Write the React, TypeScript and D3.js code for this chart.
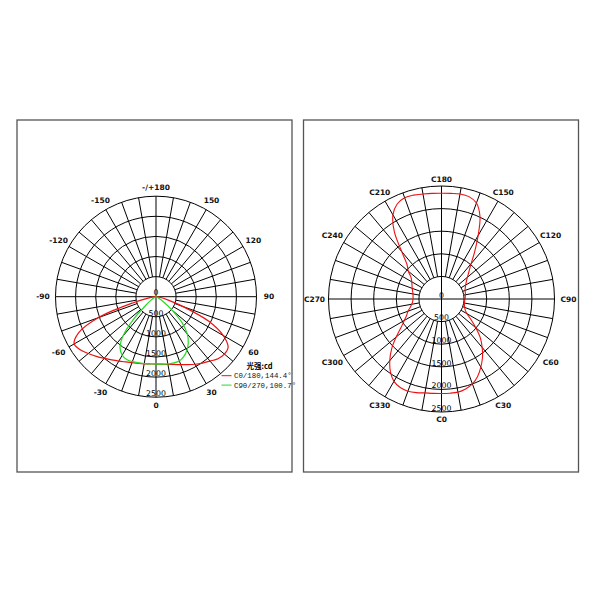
import React from 'react';
import * as d3 from 'd3';

// ---------- data ----------
const RING_VALUES = [500, 1000, 1500, 2000, 2500];
const VALUE_LABELS = [0, 500, 1000, 1500, 2000, 2500];

const LEFT_LABEL_ANGLES = [0, 30, 60, 90, 120, 150, 180, -150, -120, -90, -60, -30];
const LEFT_LABEL_TEXT = ['0', '30', '60', '90', '120', '150', '-/+180', '-150', '-120', '-90', '-60', '-30'];

const RIGHT_LABEL_ANGLES = [0, 30, 60, 90, 120, 150, 180, 210, 240, 270, 300, 330];
const RIGHT_LABEL_TEXT = ['C0', 'C30', 'C60', 'C90', 'C120', 'C150', 'C180', 'C210', 'C240', 'C270', 'C300', 'C330'];

// gamma angles (deg) for the left chart
const GAMMA = [-90, -85, -80, -75, -70, -65, -60, -55, -50, -45, -40, -35, -30, -25, -20, -15, -10, -5,
  0, 5, 10, 15, 20, 25, 30, 35, 40, 45, 50, 55, 60, 65, 70, 75, 80, 85, 90];
// C0/180 plane intensity (cd)
const C0_180 = [0, 60, 200, 600, 1520, 2120, 2350, 2300, 2200, 2100, 2000, 1920, 1850, 1790, 1745, 1715, 1695, 1680,
  1675, 1685, 1710, 1745, 1800, 1865, 1940, 2015, 2090, 2180, 2220, 2190, 1930, 1450, 720, 300, 120, 40, 0];
// C90/270 plane intensity (cd)
const C90_270 = [0, 0, 0, 0, 0, 0, 40, 150, 330, 780, 1280, 1560, 1680, 1725, 1720, 1705, 1690, 1680,
  1675, 1685, 1700, 1705, 1700, 1640, 1540, 1400, 1210, 920, 520, 240, 80, 0, 0, 0, 0, 0, 0];

// C angles (deg) for the right chart
const C_ANGLES = [0, 5, 10, 15, 20, 25, 30, 35, 40, 45, 50, 55, 60, 65, 70, 75, 80, 85, 90, 95, 100, 105, 110, 115,
  120, 125, 130, 135, 140, 145, 150, 155, 160, 165, 170, 175, 180, 185, 190, 195, 200, 205, 210, 215, 220, 225, 230, 235,
  240, 245, 250, 255, 260, 265, 270, 275, 280, 285, 290, 295, 300, 305, 310, 315, 320, 325, 330, 335, 340, 345, 350, 355];
const CONE_VALUES = [2090, 2092, 2092, 2060, 2000, 1890, 1740, 1580, 1400, 1215, 990, 800, 650, 580, 545, 525, 515, 515,
  520, 528, 538, 545, 555, 580, 620, 670, 750, 860, 1020, 1280, 1620, 2015, 2260, 2345, 2359, 2345, 2338, 2345, 2358, 2380,
  2385, 2320, 2150, 1820, 1370, 1080, 960, 820, 760, 720, 690, 660, 640, 632, 630, 640, 670, 715, 790, 850, 950, 1090,
  1310, 1560, 1780, 1970, 2105, 2160, 2170, 2145, 2110, 2095];

const LEGEND_TITLE = '光强:cd';
const LEGEND_ITEMS = ['C0/180,144.4°', 'C90/270,100.7°'];
const SERIES_COLORS = ['#ee1111', '#22dd22'];

// ---------- helpers ----------
const rad = (d: number) => (d * Math.PI) / 180;

function Grid({ cx, cy, R, labelAngles, labelText, labelBase, labelExtra }: any) {
  const r = d3.scaleLinear().domain([0, 2500]).range([0, R]);
  const spokes = d3.range(0, 360, 10);
  const pt = (a: number, rr: number) => [cx + rr * Math.sin(rad(a)), cy + rr * Math.cos(rad(a))];
  return (
    <g>
      {RING_VALUES.map((v) => (
        <circle key={'c' + v} cx={cx} cy={cy} r={r(v)} fill="none" stroke="#000" strokeWidth={1} />
      ))}
      {spokes.map((a) => {
        const full = a % 90 === 0;
        const [x1, y1] = pt(a, full ? 0 : r(500));
        const [x2, y2] = pt(a, R);
        return <line key={'s' + a} x1={x1} y1={y1} x2={x2} y2={y2} stroke="#000" strokeWidth={1} />;
      })}
      {VALUE_LABELS.map((v) => (
        <text key={'v' + v} x={cx} y={cy + r(v) - 1.3} textAnchor="middle" fontSize={7.8}
          fontFamily="DejaVu Sans, sans-serif" fill="#000">{v}</text>
      ))}
      {labelAngles.map((a: number, i: number) => {
        const rr = R + labelBase + labelExtra * Math.abs(Math.sin(rad(a)));
        const [x, y] = pt(a, rr);
        return (
          <text key={'l' + a} x={x} y={y} textAnchor="middle" dominantBaseline="central" fontSize={7.5}
            fontWeight="bold" fontFamily="DejaVu Sans, sans-serif" fill="#111">{labelText[i]}</text>
        );
      })}
    </g>
  );
}

function polarPath(angles: number[], values: number[], R: number, closed: boolean) {
  const r = d3.scaleLinear().domain([0, 2500]).range([0, R]);
  const gen = d3
    .lineRadial<number>()
    .angle((_, i) => Math.PI - rad(angles[i]))
    .radius((v) => r(v))
    .curve(closed ? d3.curveCatmullRomClosed.alpha(0.5) : d3.curveCatmullRom.alpha(0.5));
  return gen(values) || '';
}

export default function App() {
  const L = { cx: 156, cy: 296.7, R: 100.5 };
  const Rt = { cx: 441.5, cy: 299, R: 113 };
  return (
    <svg width={600} height={600} style={{ position: 'absolute', left: 0, top: 0, background: '#fff' }}>
      <rect x={0} y={0} width={600} height={600} fill="#fff" />
      <rect x={17} y={120} width={275} height={352} fill="#fff" stroke="#555" strokeWidth={1.3} />
      <rect x={303.5} y={120} width={275} height={352} fill="#fff" stroke="#555" strokeWidth={1.3} />

      <Grid cx={L.cx} cy={L.cy} R={L.R} labelAngles={LEFT_LABEL_ANGLES} labelText={LEFT_LABEL_TEXT}
        labelBase={8.5} labelExtra={4} />
      <g transform={`translate(${L.cx},${L.cy})`}>
        <path d={polarPath(GAMMA, C0_180, L.R, false)} fill="none" stroke={SERIES_COLORS[0]} strokeWidth={1.2} />
        <path d={polarPath(GAMMA, C90_270, L.R, false)} fill="none" stroke={SERIES_COLORS[1]} strokeWidth={1.2} />
      </g>

      <Grid cx={Rt.cx} cy={Rt.cy} R={Rt.R} labelAngles={RIGHT_LABEL_ANGLES} labelText={RIGHT_LABEL_TEXT}
        labelBase={7} labelExtra={7} />
      <g transform={`translate(${Rt.cx},${Rt.cy})`}>
        <path d={polarPath(C_ANGLES, CONE_VALUES, Rt.R, true)} fill="none" stroke={SERIES_COLORS[0]} strokeWidth={1.1} />
      </g>

      {/* legend */}
      <text x={246.5} y={368.5} fontSize={7.5} fontWeight="bold"
        fontFamily="Noto Sans CJK SC, sans-serif" fill="#000">{LEGEND_TITLE}</text>
      {LEGEND_ITEMS.map((t, i) => (
        <g key={t}>
          <line x1={221.5} x2={231.5} y1={375.7 + i * 9.4} y2={375.7 + i * 9.4} stroke={SERIES_COLORS[i]} strokeWidth={1} />
          <text x={234} y={378.3 + i * 9.4} fontSize={7.4} fontFamily="Liberation Mono, monospace" fill="#111">{t}</text>
        </g>
      ))}
    </svg>
  );
}
